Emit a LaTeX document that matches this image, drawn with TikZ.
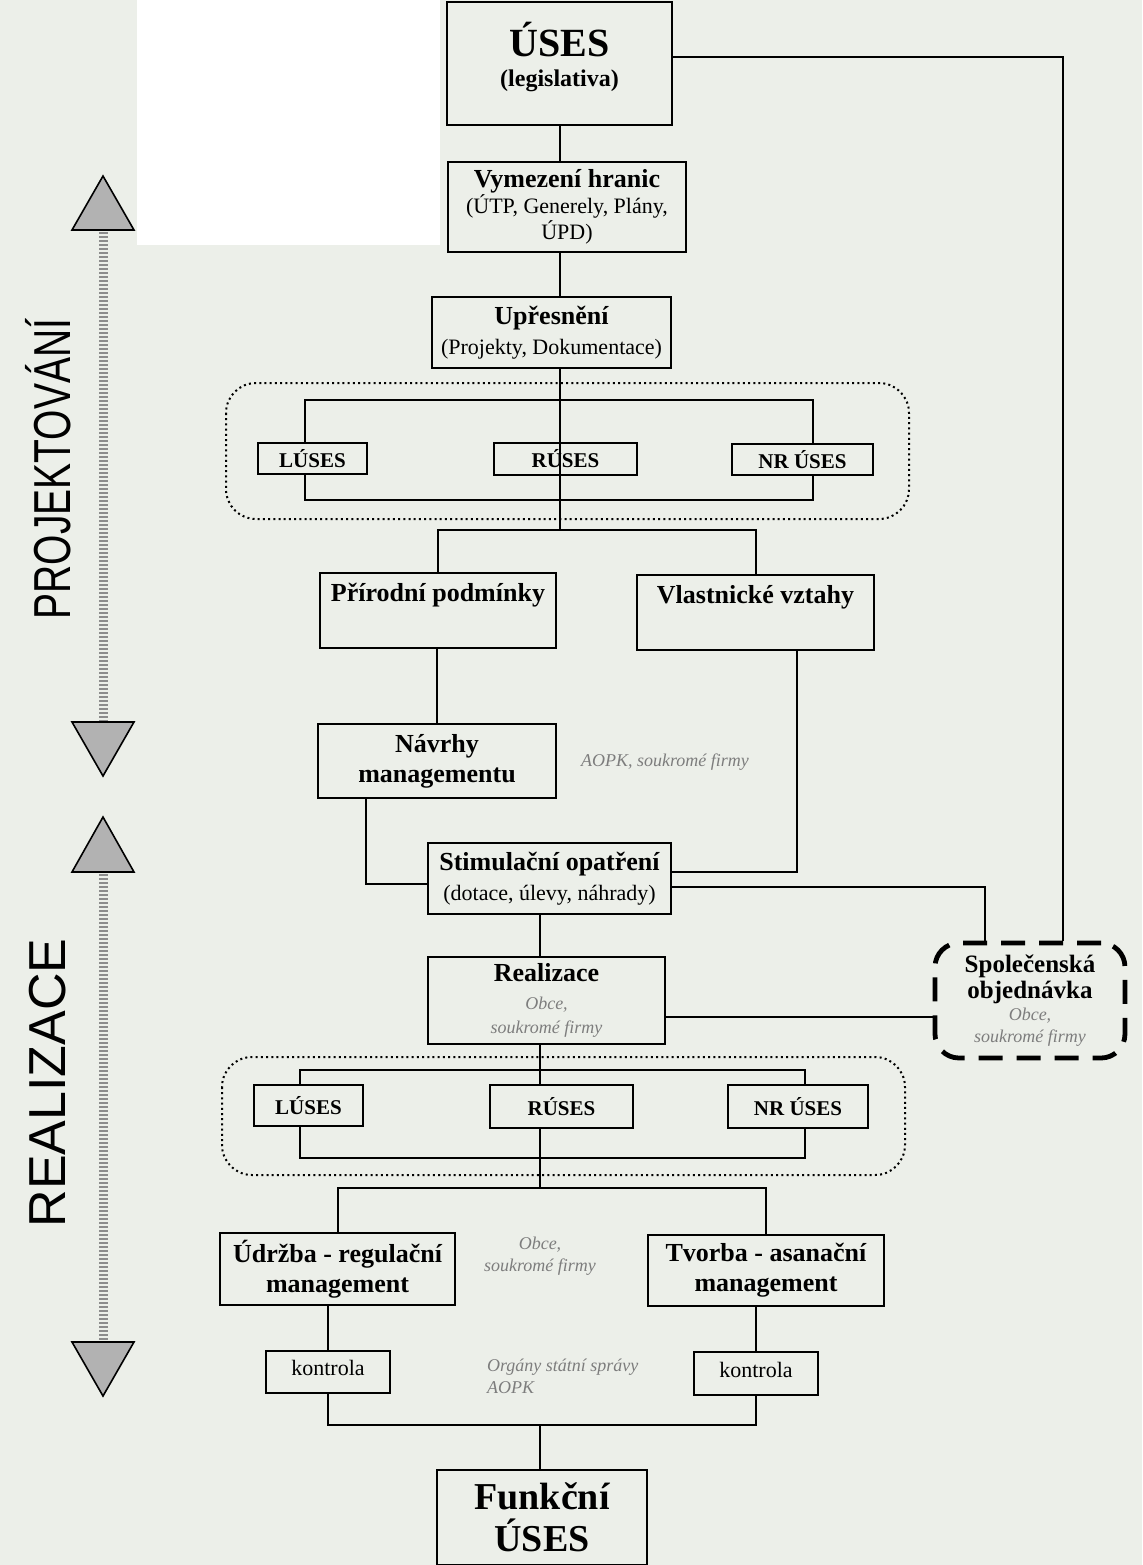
\documentclass[tikz,border=0pt]{standalone}
\usepackage{fontspec}
\setmainfont{Liberation Serif}
\setsansfont{Liberation Sans}
\usetikzlibrary{calc}

\definecolor{bgcol}{RGB}{236,239,233}
\definecolor{notecol}{RGB}{125,125,125}
\newcommand{\subtx}[1]{{\fontsize{11}{13}\selectfont\mdseries #1}}
\newcommand{\faint}[1]{{\color{notecol}\fontsize{9}{11}\selectfont\mdseries\itshape #1}}

\tikzset{
  box/.style={draw, line width=1.1pt, fill=bgcol, inner sep=1pt, align=center, font=\fontsize{13}{15}\selectfont\bfseries},
  sesbox/.style={box, font=\fontsize{10.5}{12}\selectfont\bfseries},
  order/.style={box, line width=2.4pt, dash pattern=on 12pt off 7pt, rounded corners=12pt, font=\fontsize{12.5}{14}\selectfont\bfseries},
  note/.style={text=notecol, font=\fontsize{9}{11}\selectfont\itshape, align=center},
  group/.style={draw, line width=1pt, dash pattern=on 1pt off 1.6pt, rounded corners=15pt},
  conn/.style={line width=1pt},
  phase/.style={font=\sffamily\fontsize{26}{30}\selectfont, rotate=90},
  tri/.style={draw, line width=0.8pt, fill=black!30},
  band/.style={line width=4.5pt, black!45, dash pattern=on 1pt off 1pt}
}

\begin{document}
\begin{tikzpicture}[x=0.5pt,y=-0.5pt]
\fill[bgcol] (0,0) rectangle (1142,1565);
\fill[white] (137,0) rectangle (440,245);
\useasboundingbox (0,0) rectangle (1142,1565);

\node[phase] (proj) at (48,469) {\scalebox{0.75}[1]{PROJEKTOVÁNÍ}};
\node[phase] (reali) at (48,1083) {REALIZACE};
\draw[band] (103,228) -- (103,724);
\draw[band] (103,870) -- (103,1344);
\foreach \b/\t in {230/176, 722/776, 872/817, 1342/1396}
  \draw[tri] (72,\b) -- (134,\b) -- (103,\t) -- cycle;

\draw[group] (226,383) rectangle (909,519);
\draw[group] (222,1057) rectangle (905,1175);

\node[box, minimum width=112.5pt, minimum height=61.5pt] (uses) at (559.5,63.5) {{\fontsize{20}{22}\selectfont ÚSES}\\ {\fontsize{12}{13}\selectfont (legislativa)\rule[-9pt]{0pt}{9pt}}};
\node[box, minimum width=119pt, minimum height=45pt] (vymez) at (567,207) {Vymezení hranic\\[-2pt] \subtx{(ÚTP, Generely, Plány,}\\[-2pt] \subtx{ÚPD)}};
\node[box, minimum width=119.5pt, minimum height=35.5pt] (upres) at (551.5,332.5) {Upřesnění\\ \subtx{(Projekty, Dokumentace)}};

\node[sesbox, minimum width=54.5pt, minimum height=15.5pt] (l1) at (312.5,458.5) {LÚSES};
\node[sesbox, minimum width=71.5pt, minimum height=16pt] (r1) at (565.5,459) {RÚSES};
\node[sesbox, minimum width=70.5pt, minimum height=15.5pt] (n1) at (802.5,459.5) {NR ÚSES};

\node[box, minimum width=118pt, text height=13pt, text depth=22.5pt] (prir) at (438,610.5) {Přírodní podmínky};
\node[box, minimum width=118.5pt, text height=13pt, text depth=22.5pt] (vlast) at (755.5,612.5) {Vlastnické vztahy};
\node[box, minimum width=119pt, minimum height=37pt] (navrhy) at (437,761) {Návrhy\\ managementu};
\node[note] (aopk) at (665,762) {AOPK, soukromé firmy};

\node[box, minimum width=121.5pt, minimum height=35.5pt] (stim) at (549.5,878.5) {Stimulační opatření\\ \subtx{(dotace, úlevy, náhrady)}};
\node[box, minimum width=118.5pt, minimum height=43.5pt] (real) at (546.5,1000.5) {Realizace\\[-1pt] \faint{Obce,}\\[-3pt] \faint{soukromé firmy}};
\node[order, minimum width=95pt, minimum height=57.5pt] (spol) at (1030,1000.5) {Společenská\\[-1pt] objednávka\\[-3pt] \faint{Obce,}\\[-3pt] \faint{soukromé firmy}};

\node[sesbox, minimum width=54.5pt, minimum height=20.5pt] (l2) at (308.5,1105.5) {LÚSES};
\node[sesbox, minimum width=71.5pt, minimum height=21.5pt] (r2) at (561.5,1106.5) {RÚSES};
\node[sesbox, minimum width=70pt, minimum height=21.5pt] (n2) at (798,1106.5) {NR ÚSES};

\node[box, minimum width=117.5pt, minimum height=36pt] (udrz) at (337.5,1269) {Údržba - regulační\\ management};
\node[box, minimum width=118pt, minimum height=35.5pt] (tvor) at (766,1270.5) {Tvorba - asanační\\ management};
\node[note] (obce) at (540,1256) {Obce,\\ soukromé firmy};

\node[box, font=\fontsize{11}{13}\selectfont, minimum width=62pt, minimum height=21pt] (kont1) at (328,1372) {kontrola\rule[-4pt]{0pt}{4pt}};
\node[box, font=\fontsize{11}{13}\selectfont, minimum width=62pt, minimum height=21.5pt] (kont2) at (756,1373.5) {kontrola\rule[-4pt]{0pt}{4pt}};
\node[note, anchor=west, align=left] (org) at (480,1376) {Orgány státní správy\\ AOPK};

\node[box, font=\fontsize{19}{21}\selectfont\bfseries, minimum width=105pt, minimum height=47.5pt] (funk) at (542,1517.5) {Funkční\\ ÚSES};

\coordinate (t1) at (560,400);
\coordinate (b1) at (560,500);
\coordinate (j1) at (560,530);
\coordinate (t2) at (540,1070);
\coordinate (b2) at (540,1158);
\coordinate (j2) at (540,1188);
\coordinate (j3) at (540,1425);

\draw[conn] (uses.south -| t1) -- (vymez.north -| t1);
\draw[conn] (vymez.south -| t1) -- (upres.north -| t1);
\draw[conn] ([yshift=3.25pt]uses.east) -| ([xshift=16.5pt]spol.north);
\draw[conn] ([xshift=-3.75pt]l1.north) |- (t1) -| ([xshift=5.25pt]n1.north);
\draw[conn] ([xshift=-3.75pt]l1.south) |- (b1) -| ([xshift=5.25pt]n1.south);
\draw[conn] (upres.south -| t1) -- (j1);
\draw[conn] (prir.north) |- (j1) -| (vlast.north);
\draw[conn] (navrhy.north |- prir.south) -- (navrhy.north);
\draw[conn] ([xshift=20.75pt]vlast.south) |- ([yshift=3.25pt]stim.east);
\draw[conn] ([xshift=-35.5pt]navrhy.south) |- ([yshift=-2.75pt]stim.west);
\draw[conn] ([yshift=-4.25pt]stim.east) -| ([xshift=-22.5pt]spol.north);
\draw[conn] (stim.south -| t2) -- (real.north -| t2);
\draw[conn] ([yshift=-8.25pt]real.east) -- ([yshift=-8.25pt]real.east -| spol.west);
\draw[conn] (real.south -| t2) -- (t2 |- r2.north);
\draw[conn] ([xshift=-4.25pt]l2.north) |- (t2) -| ([xshift=3.5pt]n2.north);
\draw[conn] ([xshift=-4.25pt]l2.south) |- (b2) -| ([xshift=3.5pt]n2.south);
\draw[conn] (t2 |- r2.south) -- (j2);
\draw[conn] (udrz.north) |- (j2) -| (tvor.north);
\draw[conn] (kont1.north |- udrz.south) -- (kont1.north);
\draw[conn] (kont2.north |- tvor.south) -- (kont2.north);
\draw[conn] (kont1.south) |- (j3) -| (kont2.south);
\draw[conn] (j3) -- (j3 |- funk.north);
\end{tikzpicture}
\end{document}
